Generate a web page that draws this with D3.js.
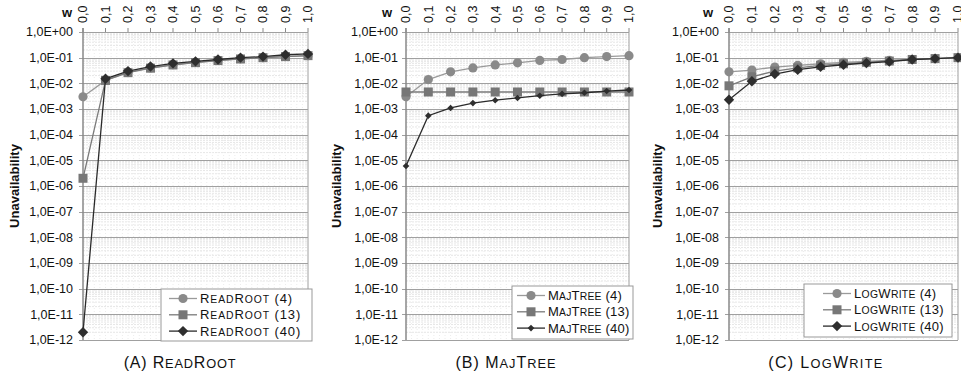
<!DOCTYPE html>
<html>
<head>
<meta charset="utf-8">
<script src="https://cdn.jsdelivr.net/npm/d3@7"></script>
<style>
  body { margin: 0; background: #fff; }
  svg text { font-family: "Liberation Sans", Arial, sans-serif; fill: #111; }
</style>
</head>
<body>
<div id="chart"></div>
<script>
// data
const wValues = [0, 0.1, 0.2, 0.3, 0.4, 0.5, 0.6, 0.7, 0.8, 0.9, 1.0];
const wLabels = ["0,0", "0,1", "0,2", "0,3", "0,4", "0,5", "0,6", "0,7", "0,8", "0,9", "1,0"];
const yTickLabels = ["1,0E+00", "1,0E-01", "1,0E-02", "1,0E-03", "1,0E-04", "1,0E-05", "1,0E-06",
    "1,0E-07", "1,0E-08", "1,0E-09", "1,0E-10", "1,0E-11", "1,0E-12"];

const readRoot4 = [3e-3, 1.3e-2, 2.7e-2, 4.0e-2, 5.3e-2, 6.5e-2, 7.8e-2, 9.0e-2, 1.0e-1, 1.1e-1, 1.2e-1];
const readRoot13 = [2e-6, 1.3e-2, 2.6e-2, 3.9e-2, 5.2e-2, 6.4e-2, 7.7e-2, 8.9e-2, 1.0e-1, 1.1e-1, 1.2e-1];
const readRoot40 = [2e-12, 1.5e-2, 3.0e-2, 4.5e-2, 6.0e-2, 7.2e-2, 8.5e-2, 1.0e-1, 1.1e-1, 1.3e-1, 1.4e-1];

const majTree4 = [3e-3, 1.4e-2, 2.8e-2, 4.0e-2, 5.2e-2, 6.3e-2, 7.8e-2, 8.5e-2, 1.0e-1, 1.1e-1, 1.2e-1];
const majTree13 = [4.6e-3, 4.6e-3, 4.6e-3, 4.6e-3, 4.6e-3, 4.6e-3, 4.6e-3, 4.6e-3, 4.6e-3, 4.6e-3, 4.6e-3];
const majTree40 = [6e-6, 5.5e-4, 1.1e-3, 1.7e-3, 2.2e-3, 2.7e-3, 3.3e-3, 3.9e-3, 4.3e-3, 5.0e-3, 5.5e-3];

const logWrite4 = [2.8e-2, 3.3e-2, 4.3e-2, 5.0e-2, 5.8e-2, 6.5e-2, 7.2e-2, 7.8e-2, 8.5e-2, 9.2e-2, 1.0e-1];
const logWrite13 = [8e-3, 1.8e-2, 3.0e-2, 4.0e-2, 5.0e-2, 5.8e-2, 6.6e-2, 7.4e-2, 8.5e-2, 9.2e-2, 1.0e-1];
const logWrite40 = [2.3e-3, 1.2e-2, 2.3e-2, 3.4e-2, 4.4e-2, 5.3e-2, 6.2e-2, 7.0e-2, 8.5e-2, 9.2e-2, 1.0e-1];

const algoNames = ["ReadRoot", "MajTree", "LogWrite"];
const panelLetters = ["(A)", "(B)", "(C)"];
const sizes = ["4", "13", "40"];

// layout
const width = 961, height = 375;
const plotTop = 32, plotBottom = 340;
const panels = [
    { name: algoNames[0], letter: panelLetters[0], series: [readRoot4, readRoot13, readRoot40],
      left: 83, right: 308, labelRight: 73, yLabelX: 14, wX: 67, smallDiamond: false,
      title: { x: 180, ls: 0.8 },
      legend: { x: 161, y: 289, w: 151, h: 52, lineX: 169, ls: 0.9 } },
    { name: algoNames[1], letter: panelLetters[1], series: [majTree4, majTree13, majTree40],
      left: 406, right: 629, labelRight: 398, yLabelX: 336, wX: 387, smallDiamond: true,
      title: { x: 506, ls: 1 },
      legend: { x: 512, y: 286, w: 121, h: 53, lineX: 517, ls: 0.2 } },
    { name: algoNames[2], letter: panelLetters[2], series: [logWrite4, logWrite13, logWrite40],
      left: 729, right: 958, labelRight: 719, yLabelX: 657, wX: 708, smallDiamond: false,
      title: { x: 826, ls: 1.3 },
      legend: { x: 804, y: 284, w: 148, h: 53, lineX: 823, ls: 0.3 } }
];

const styles = [
    { line: "#9a9a9a", fill: "#8a8a8a", shape: "circle" },
    { line: "#7a7a7a", fill: "#777777", shape: "square" },
    { line: "#2a2a2a", fill: "#2e2e2e", shape: "diamond" }
];

const svg = d3.select("#chart").append("svg")
    .attr("width", width)
    .attr("height", height);

function drawMarker(g, shape, x, y, fill, small) {
    if (shape === "circle") {
        g.append("circle").attr("cx", x).attr("cy", y).attr("r", 4.6).attr("fill", fill);
    } else if (shape === "square") {
        g.append("rect").attr("x", x - 4.5).attr("y", y - 4.5).attr("width", 9).attr("height", 9).attr("fill", fill);
    } else {
        const s = small ? 3.3 : 5.2;
        g.append("path")
            .attr("d", "M" + x + "," + (y - s) + "L" + (x + s) + "," + y + "L" + x + "," + (y + s) + "L" + (x - s) + "," + y + "Z")
            .attr("fill", fill);
    }
}

// small caps done by hand: lower case letters drawn as smaller capitals
function smallCaps(textEl, str, size) {
    const runs = [];
    for (const ch of str) {
        const low = ch !== ch.toUpperCase();
        if (runs.length && runs[runs.length - 1].low === low) runs[runs.length - 1].s += ch;
        else runs.push({ low: low, s: ch });
    }
    runs.forEach((r) => {
        textEl.append("tspan")
            .attr("font-size", r.low ? size * 0.8 : size)
            .text(r.low ? r.s.toUpperCase() : r.s);
    });
}

panels.forEach((p) => {
    const g = svg.append("g");
    const x = d3.scaleLinear().domain([0, 1]).range([p.left, p.right]);
    const y = d3.scaleLog().domain([1e-12, 1]).range([plotBottom, plotTop]);

    // minor grid
    const minorY = [];
    for (let e = -12; e < 0; e++) {
        for (let k = 2; k <= 9; k++) minorY.push(k * Math.pow(10, e));
    }
    g.selectAll(".minorY").data(minorY).enter().append("line")
        .attr("x1", p.left).attr("x2", p.right)
        .attr("y1", (d) => y(d)).attr("y2", (d) => y(d))
        .attr("stroke", "#e6e6e6").attr("stroke-width", 1).attr("stroke-dasharray", "2,1");
    g.selectAll(".minorX").data(d3.range(0.025, 1, 0.025)).enter().append("line")
        .attr("x1", (d) => x(d)).attr("x2", (d) => x(d))
        .attr("y1", plotTop).attr("y2", plotBottom)
        .attr("stroke", "#ececec").attr("stroke-width", 1).attr("stroke-dasharray", "1,2");

    // major grid
    const majorY = d3.range(0, 13).map((i) => Math.pow(10, -i));
    g.selectAll(".majorY").data(majorY).enter().append("line")
        .attr("x1", p.left - 4).attr("x2", p.right)
        .attr("y1", (d) => Math.round(y(d)) + 0.5).attr("y2", (d) => Math.round(y(d)) + 0.5)
        .attr("stroke", "#a0a0a0").attr("stroke-width", 1.2);

    // frame
    g.append("line").attr("x1", p.right).attr("x2", p.right).attr("y1", plotTop).attr("y2", plotBottom)
        .attr("stroke", "#a0a0a0").attr("stroke-width", 1);
    g.append("line").attr("x1", p.left).attr("x2", p.left).attr("y1", plotTop - 4).attr("y2", plotBottom)
        .attr("stroke", "#888").attr("stroke-width", 1.5);
    g.selectAll(".xtick").data(wValues).enter().append("line")
        .attr("x1", (d) => x(d)).attr("x2", (d) => x(d))
        .attr("y1", plotTop - 4).attr("y2", plotTop)
        .attr("stroke", "#888");

    // y labels
    g.selectAll(".ylab").data(majorY).enter().append("text")
        .attr("x", p.labelRight).attr("y", (d) => y(d))
        .attr("dy", "0.35em").attr("text-anchor", "end")
        .attr("font-size", 12.5)
        .text((d, i) => yTickLabels[i]);

    // top x labels
    g.selectAll(".xlab").data(wValues).enter().append("text")
        .attr("transform", (d) => "translate(" + x(d) + "," + 23 + ") rotate(-90)")
        .attr("dy", "0.35em").attr("text-anchor", "start")
        .attr("font-size", 12.5)
        .text((d, i) => wLabels[i]);
    g.append("text").attr("x", p.wX).attr("y", 17)
        .attr("text-anchor", "middle").attr("font-weight", "bold").attr("font-size", 13)
        .text("w");

    g.append("text")
        .attr("transform", "translate(" + p.yLabelX + "," + ((plotTop + plotBottom) / 2) + ") rotate(-90)")
        .attr("dy", "0.35em").attr("text-anchor", "middle")
        .attr("font-weight", "bold").attr("font-size", 13)
        .text("Unavailability");

    // series
    const line = d3.line().x((d) => x(d[0])).y((d) => y(d[1]));
    p.series.forEach((vals, si) => {
        const pts = wValues.map((w, i) => [w, vals[i]]);
        g.append("path").datum(pts).attr("d", line)
            .attr("fill", "none").attr("stroke", styles[si].line).attr("stroke-width", 1.3);
        const mg = g.append("g");
        pts.forEach((d) => drawMarker(mg, styles[si].shape, x(d[0]), y(d[1]), styles[si].fill, p.smallDiamond));
    });

    // legend
    const L = p.legend;
    const lg = g.append("g");
    lg.append("rect").attr("x", L.x).attr("y", L.y).attr("width", L.w).attr("height", L.h)
        .attr("fill", "#fff").attr("stroke", "#999").attr("stroke-width", 1);
    sizes.forEach((s, si) => {
        const ry = L.y + 9.5 + si * 16.3;
        lg.append("line").attr("x1", L.lineX).attr("x2", L.lineX + 28).attr("y1", ry).attr("y2", ry)
            .attr("stroke", styles[si].line).attr("stroke-width", 1.3);
        drawMarker(lg, styles[si].shape, L.lineX + 14, ry, styles[si].fill, p.smallDiamond);
        const t = lg.append("text")
            .attr("x", L.lineX + 31).attr("y", ry + 4.6)
            .attr("letter-spacing", L.ls)
            .attr("font-size", 13);
        smallCaps(t, p.name + " (" + s + ")", 13);
    });

    // panel title
    const tt = g.append("text")
        .attr("x", p.title.x).attr("y", 368)
        .attr("text-anchor", "middle").attr("letter-spacing", p.title.ls)
        .attr("font-size", 16);
    smallCaps(tt, p.letter + " " + p.name, 16);
});
</script>
</body>
</html>
